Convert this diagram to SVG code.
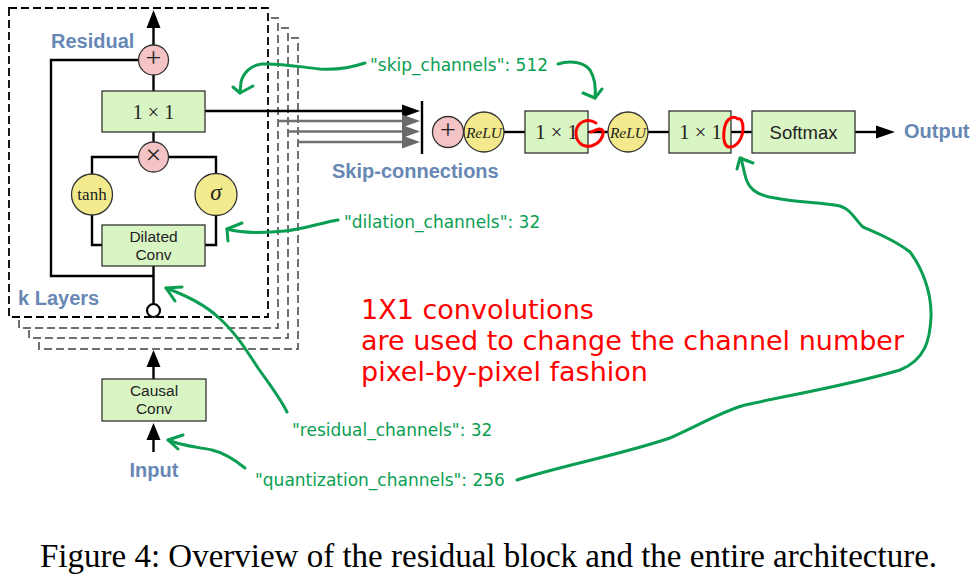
<svg xmlns="http://www.w3.org/2000/svg" width="977" height="576" viewBox="0 0 977 576">
<defs>
<style>
.box{fill:#daf5c4;stroke:#333;stroke-width:1.3}
.pink{fill:#f4c3c5;stroke:#333;stroke-width:1.3}
.yel{fill:#f2ea8c;stroke:#333;stroke-width:1.3}
.ln{fill:none;stroke:#000;stroke-width:2.4}
.gl{fill:none;stroke:#707070;stroke-width:2.4}
.fr{fill:#fff;stroke:#000;stroke-width:1.8;stroke-dasharray:8 4}
.bk{fill:#fff;stroke:#707070;stroke-width:2;stroke-dasharray:8 4}
.lab{font-family:"Liberation Sans",Arial,sans-serif;font-weight:bold;font-size:20px;fill:#6787b5}
.sans{font-family:"Liberation Sans",Arial,sans-serif;fill:#222}
.ser{font-family:"Liberation Serif","Times New Roman",serif;fill:#222}
.gt{font-family:"DejaVu Sans",sans-serif;font-size:17px;fill:#0a9e52}
.rt{font-family:"DejaVu Sans",sans-serif;font-size:27px;fill:#ff0000}
.ga{fill:none;stroke:#0a9e52;stroke-width:3;stroke-linecap:round;stroke-linejoin:round}
.ra{fill:none;stroke:#f00;stroke-width:3;stroke-linecap:round}
</style>
<marker id="ah" markerWidth="10" markerHeight="8" refX="9" refY="4" orient="auto" markerUnits="userSpaceOnUse" viewBox="0 0 10 8"><path d="M0,0 L10,4 L0,8 z" fill="#000"/></marker>
</defs>

<g id="layers">
<rect class="bk" x="39" y="38" width="259" height="311"/>
<rect class="bk" x="29" y="28" width="259" height="310"/>
<rect class="bk" x="19" y="18" width="259" height="310"/>
<rect class="fr" x="9" y="8" width="259" height="309"/>
<text class="lab" x="51" y="48">Residual</text>
<text class="lab" x="18" y="305">k Layers</text>
</g>

<g id="connectors">
<!-- residual block internals -->
<line class="ln" x1="153.5" y1="45" x2="153.5" y2="27"/>
<path d="M146.5,28 L153.5,10 L160.5,28 z" fill="#000"/>
<polyline class="ln" points="138.5,60 51,60 51,276 153.5,276"/>
<line class="ln" x1="153.5" y1="75" x2="153.5" y2="91"/>
<line class="ln" x1="153.5" y1="132" x2="153.5" y2="142"/>
<polyline class="ln" points="138.5,157 92,157 92,174"/>
<polyline class="ln" points="168.5,157 216,157 216,174"/>
<polyline class="ln" points="92,215 92,245 102,245"/>
<polyline class="ln" points="216,215 216,245 205,245"/>
<line class="ln" x1="153.5" y1="266" x2="153.5" y2="304.5"/>
<!-- skip connections -->
<line class="ln" x1="205" y1="111" x2="403" y2="111"/>
<path d="M402,104.5 L420,111 L402,117.5 z" fill="#000"/>
<line class="gl" x1="277" y1="121" x2="403" y2="121"/>
<path d="M402,114.5 L420,121 L402,127.5 z" fill="#6a6a6a"/>
<line class="gl" x1="287" y1="131.5" x2="403" y2="131.5"/>
<path d="M402,125 L420,131.5 L402,138 z" fill="#6a6a6a"/>
<line class="gl" x1="297" y1="142" x2="403" y2="142"/>
<path d="M402,135.5 L420,142 L402,148.5 z" fill="#6a6a6a"/>
<line x1="422" y1="101" x2="422" y2="154" stroke="#000" stroke-width="2.4"/>
<!-- output chain -->
<line class="ln" x1="504" y1="132" x2="525" y2="132"/>
<line class="ln" x1="588" y1="132" x2="608" y2="132"/>
<line class="ln" x1="648" y1="132" x2="669" y2="132"/>
<line class="ln" x1="731" y1="132" x2="752" y2="132"/>
<line class="ln" x1="855" y1="132" x2="877" y2="132"/>
<path d="M876,125.5 L895,132 L876,138.5 z" fill="#000"/>
<!-- input side -->
<line class="ln" x1="153.5" y1="379" x2="153.5" y2="366"/>
<path d="M146.5,367 L153.5,350 L160.5,367 z" fill="#000"/>
<line class="ln" x1="153.5" y1="452" x2="153.5" y2="439"/>
<path d="M146.5,440 L153.5,423 L160.5,440 z" fill="#000"/>
</g>

<g id="res-plus"><circle class="pink" cx="153.5" cy="60" r="15"/><text class="ser" x="153.5" y="67" font-size="28" text-anchor="middle">+</text></g>
<g id="res-1x1"><rect class="box" x="102" y="91" width="103" height="41"/><text class="ser" x="153.5" y="119" font-size="20" text-anchor="middle">1 × 1</text></g>
<g id="res-times"><circle class="pink" cx="153.5" cy="157" r="15"/><text class="ser" x="153.5" y="164" font-size="28" text-anchor="middle">×</text></g>
<g id="tanh"><circle class="yel" cx="92" cy="194.5" r="20.5"/><text class="ser" x="92" y="199.5" font-size="17" text-anchor="middle">tanh</text></g>
<g id="sigma"><circle class="yel" cx="216" cy="194.5" r="21"/><text class="ser" x="216" y="200" font-size="23" font-style="italic" text-anchor="middle">σ</text></g>
<g id="dilated-conv"><rect class="box" x="102" y="225" width="103" height="41"/><text class="sans" x="153.5" y="242" font-size="15.5" text-anchor="middle">Dilated</text><text class="sans" x="153.5" y="260" font-size="15.5" text-anchor="middle">Conv</text></g>
<g id="res-in"><circle cx="153.5" cy="310.5" r="6.5" fill="#fff" stroke="#000" stroke-width="2.2"/></g>

<g id="causal-conv"><rect class="box" x="102" y="379" width="104" height="42"/><text class="sans" x="154" y="396" font-size="15.5" text-anchor="middle">Causal</text><text class="sans" x="154" y="414" font-size="15.5" text-anchor="middle">Conv</text></g>
<g id="input"><text class="lab" x="154" y="477" text-anchor="middle">Input</text></g>
<g id="skip-label"><text class="lab" x="332" y="178">Skip-connections</text></g>

<g id="sum"><circle class="pink" cx="448" cy="132" r="15.5"/><text class="ser" x="448" y="139" font-size="28" text-anchor="middle">+</text></g>
<g id="relu1"><circle class="yel" cx="484" cy="132" r="20"/><text class="ser" x="484" y="137.5" font-size="15.5" font-style="italic" text-anchor="middle">ReLU</text></g>
<g id="conv1"><rect class="box" x="525" y="111" width="63" height="42"/><text class="ser" x="556.5" y="139" font-size="20.5" text-anchor="middle">1 × 1</text></g>
<g id="relu2"><circle class="yel" cx="628" cy="132" r="20"/><text class="ser" x="628" y="137.5" font-size="15.5" font-style="italic" text-anchor="middle">ReLU</text></g>
<g id="conv2"><rect class="box" x="669" y="111" width="62" height="42"/><text class="ser" x="700.5" y="139" font-size="20.5" text-anchor="middle">1 × 1</text></g>
<g id="softmax"><rect class="box" x="752" y="111" width="103" height="42"/><text class="sans" x="803.5" y="138.5" font-size="18.5" text-anchor="middle">Softmax</text></g>
<g id="output"><text class="lab" x="904" y="138">Output</text></g>

<g id="annotations">
<path class="ra" d="M596,123 C588,118 578,121 576,131 C575,141 582,148 591,146 C599,144 604,137 603,131 C601,127 596,130 591,132"/>
<path class="ra" d="M738,119 C731,114 725,121 724,131 C723,141 725,148 731,147 C738,146 743,137 743,128 C743,122 741,118 738,119"/>

<text class="gt" x="370" y="70.5">"skip_channels": 512</text>
<path class="ga" d="M365,63 C350,68 335,70 320,69 C300,67 280,63 262,64 C250,65 243,74 241,82 L240,93"/>
<path class="ga" d="M233,87 L240,93 L253,86"/>
<path class="ga" d="M558,64 C570,60 584,62 590,70 C595,78 596,88 595,98"/>
<path class="ga" d="M583,93 L595,98 L602,89"/>

<text class="gt" x="344" y="228">"dilation_channels": 32</text>
<path class="ga" d="M338,220 C320,223 305,229 285,231 C265,233 245,234 227,229"/>
<path class="ga" d="M242,223 L227,229 L228,241"/>

<text class="gt" x="292" y="436">"residual_channels": 32</text>
<path class="ga" d="M287,412 C280,398 270,385 258,368 C245,348 235,332 218,317 C205,305 185,295 166,288"/>
<path class="ga" d="M182,287 L166,288 L175,301"/>

<text class="gt" x="255" y="486">"quantization_channels": 256</text>
<path class="ga" d="M245,468 C235,460 225,453 212,450 C198,447 182,446 168,440"/>
<path class="ga" d="M183,435 L168,440 L178,449"/>
<path class="ga" d="M517,480 C560,466 620,455 670,438 C700,425 720,412 745,405 C790,395 850,385 900,370 C925,360 930,340 931,317 C932,290 920,265 910,252 C895,240 875,232 863,227 C855,220 852,210 840,206 C820,202 800,203 775,198 C755,195 748,188 745,175 L741,158"/>
<path class="ga" d="M737,169 L740,158 L753,163"/>

<text class="rt" x="361" y="319">1X1 convolutions</text>
<text class="rt" x="361" y="350">are used to change the channel number</text>
<text class="rt" x="361" y="381">pixel-by-pixel fashion</text>
</g>

<g id="caption"><text font-family="Liberation Serif,'Times New Roman',serif" font-size="33" fill="#000" x="40" y="567">Figure 4: Overview of the residual block and the entire architecture.</text></g>
</svg>
